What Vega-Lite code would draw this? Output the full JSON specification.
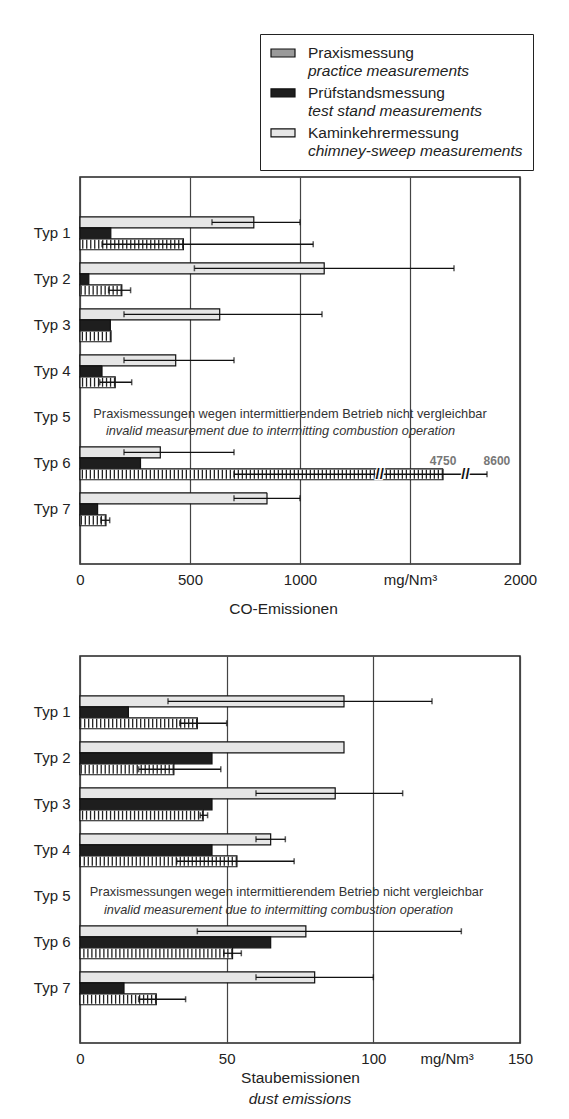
{
  "$schema": "https://vega.github.io/schema/vega-lite/v6.json",
  "padding": {"left": 32, "top": 33, "right": 5, "bottom": 5},
  "background": "white",
  "spacing": 37,
  "config": {
    "font": "Liberation Sans",
    "view": {"stroke": "#222", "strokeWidth": 1.5},
    "axis": {"labelColor": "#222", "titleColor": "#222", "labelFontSize": 15, "titleFontSize": 15.5, "titleFontWeight": "normal"},
    "title": {"color": "#222"}
  },
  "datasets": {
    "co": [
      {"typ": "Typ 1", "series": "Kaminkehrermessung", "en": "chimney-sweep measurements", "mean": 790, "min": 600, "max": 1000},
      {"typ": "Typ 1", "series": "Prüfstandsmessung", "en": "test stand measurements", "mean": 140},
      {"typ": "Typ 1", "series": "Praxismessung", "en": "practice measurements", "mean": 470, "min": 100, "max": 1060},
      {"typ": "Typ 2", "series": "Kaminkehrermessung", "en": "chimney-sweep measurements", "mean": 1110, "min": 520, "max": 1700},
      {"typ": "Typ 2", "series": "Prüfstandsmessung", "en": "test stand measurements", "mean": 40},
      {"typ": "Typ 2", "series": "Praxismessung", "en": "practice measurements", "mean": 190, "min": 130, "max": 230},
      {"typ": "Typ 3", "series": "Kaminkehrermessung", "en": "chimney-sweep measurements", "mean": 635, "min": 200, "max": 1100},
      {"typ": "Typ 3", "series": "Prüfstandsmessung", "en": "test stand measurements", "mean": 138},
      {"typ": "Typ 3", "series": "Praxismessung", "en": "practice measurements", "mean": 141},
      {"typ": "Typ 4", "series": "Kaminkehrermessung", "en": "chimney-sweep measurements", "mean": 435, "min": 200, "max": 700},
      {"typ": "Typ 4", "series": "Prüfstandsmessung", "en": "test stand measurements", "mean": 100},
      {"typ": "Typ 4", "series": "Praxismessung", "en": "practice measurements", "mean": 160, "min": 90, "max": 235},
      {"typ": "Typ 6", "series": "Kaminkehrermessung", "en": "chimney-sweep measurements", "mean": 365, "min": 200, "max": 700},
      {"typ": "Typ 6", "series": "Prüfstandsmessung", "en": "test stand measurements", "mean": 275},
      {"typ": "Typ 6", "series": "Praxismessung", "en": "practice measurements", "mean": 1650, "min": 700, "max": 1850},
      {"typ": "Typ 7", "series": "Kaminkehrermessung", "en": "chimney-sweep measurements", "mean": 850, "min": 700, "max": 1000},
      {"typ": "Typ 7", "series": "Prüfstandsmessung", "en": "test stand measurements", "mean": 80},
      {"typ": "Typ 7", "series": "Praxismessung", "en": "practice measurements", "mean": 118, "min": 95, "max": 135}
    ],
    "dust": [
      {"typ": "Typ 1", "series": "Kaminkehrermessung", "en": "chimney-sweep measurements", "mean": 90, "min": 30, "max": 120},
      {"typ": "Typ 1", "series": "Prüfstandsmessung", "en": "test stand measurements", "mean": 16.5},
      {"typ": "Typ 1", "series": "Praxismessung", "en": "practice measurements", "mean": 40, "min": 34, "max": 50},
      {"typ": "Typ 2", "series": "Kaminkehrermessung", "en": "chimney-sweep measurements", "mean": 90},
      {"typ": "Typ 2", "series": "Prüfstandsmessung", "en": "test stand measurements", "mean": 45},
      {"typ": "Typ 2", "series": "Praxismessung", "en": "practice measurements", "mean": 32, "min": 20, "max": 48},
      {"typ": "Typ 3", "series": "Kaminkehrermessung", "en": "chimney-sweep measurements", "mean": 87, "min": 60, "max": 110},
      {"typ": "Typ 3", "series": "Prüfstandsmessung", "en": "test stand measurements", "mean": 45},
      {"typ": "Typ 3", "series": "Praxismessung", "en": "practice measurements", "mean": 42, "min": 41, "max": 43.5},
      {"typ": "Typ 4", "series": "Kaminkehrermessung", "en": "chimney-sweep measurements", "mean": 65, "min": 60, "max": 70},
      {"typ": "Typ 4", "series": "Prüfstandsmessung", "en": "test stand measurements", "mean": 45},
      {"typ": "Typ 4", "series": "Praxismessung", "en": "practice measurements", "mean": 53.5, "min": 33, "max": 73},
      {"typ": "Typ 6", "series": "Kaminkehrermessung", "en": "chimney-sweep measurements", "mean": 77, "min": 40, "max": 130},
      {"typ": "Typ 6", "series": "Prüfstandsmessung", "en": "test stand measurements", "mean": 65},
      {"typ": "Typ 6", "series": "Praxismessung", "en": "practice measurements", "mean": 52, "min": 49, "max": 55},
      {"typ": "Typ 7", "series": "Kaminkehrermessung", "en": "chimney-sweep measurements", "mean": 80, "min": 60, "max": 100},
      {"typ": "Typ 7", "series": "Prüfstandsmessung", "en": "test stand measurements", "mean": 15},
      {"typ": "Typ 7", "series": "Praxismessung", "en": "practice measurements", "mean": 26, "min": 20, "max": 36}
    ],
    "note": [
      {"typ": "Typ 5", "de": "Praxismessungen wegen intermittierendem Betrieb nicht vergleichbar", "eng": "invalid measurement due to intermitting combustion operation"}
    ],
    "co_values": [
      {"typ": "Typ 6", "series": "Prüfstandsmessung", "at": 1650, "label": "4750"},
      {"typ": "Typ 6", "series": "Prüfstandsmessung", "at": 1895, "label": "8600"}
    ],
    "co_breaks": [
      {"typ": "Typ 6", "series": "Praxismessung", "at": 1362},
      {"typ": "Typ 6", "series": "Praxismessung", "at": 1752}
    ]
  },
  "vconcat": [
    {
      "width": 440,
      "height": 387,
      "layer": [
        {
          "data": {"name": "co"},
          "mark": {"type": "bar", "stroke": "#111", "strokeWidth": 1.2},
          "encoding": {
            "y": {"field": "typ", "type": "nominal", "scale": {"domain": ["Typ 1", "Typ 2", "Typ 3", "Typ 4", "Typ 5", "Typ 6", "Typ 7"], "paddingInner": 0.283, "paddingOuter": 0.848, "align": 0.51},
                  "axis": {"title": null, "ticks": false, "domain": false, "labelPadding": 10, "grid": false}},
            "yOffset": {"field": "series", "type": "nominal", "scale": {"domain": ["Kaminkehrermessung", "Prüfstandsmessung", "Praxismessung"], "paddingInner": 0, "paddingOuter": 0}},
            "x": {"field": "mean", "type": "quantitative", "scale": {"domain": [0, 2000], "nice": false},
                  "axis": {"values": [0, 500, 1000, 1500, 2000], "format": "d", "labelExpr": "datum.value === 1500 ? 'mg/Nm³' : datum.label", "grid": true, "gridColor": "#444", "gridWidth": 1.2, "ticks": false, "domain": false, "labelFlush": false, "labelPadding": 8, "title": "CO-Emissionen", "titleX": 203, "titlePadding": 14}},
            "fill": {"condition": {"test": "datum.series === 'Praxismessung'", "value": "white"}, "field": "series", "type": "nominal",
                     "scale": {"domain": ["Praxismessung", "Prüfstandsmessung", "Kaminkehrermessung"], "range": ["#9a9a9a", "#1e1e1e", "#e6e6e6"]},
                     "legend": {"orient": "none", "legendX": 190, "legendY": -133, "title": null, "padding": 0, "symbolType": "M-1,-0.5H2V0.5H-1Z", "symbolSize": 256, "symbolStrokeColor": "#111", "symbolStrokeWidth": 1.2, "labelFontSize": 15.5, "labelColor": "#222", "labelOffset": 20, "labelLimit": 0, "rowPadding": 21.9}},
            "strokeDash": {"field": "en", "type": "nominal",
                     "scale": {"domain": ["practice measurements", "test stand measurements", "chimney-sweep measurements"], "range": [[1, 0], [1, 0], [1, 0]]},
                     "legend": {"orient": "none", "legendX": 180, "legendY": -143, "title": " ", "titleFontSize": 8, "titlePadding": 10, "padding": 10, "strokeColor": "#222", "symbolType": "M-1,-0.5H2V0.5H-1Z", "symbolSize": 256, "symbolOpacity": 0, "labelFontSize": 15.5, "labelFontStyle": "italic", "labelColor": "#222", "labelOffset": 20, "labelLimit": 0, "rowPadding": 21.9}}
          }
        },
        {
          "data": {"name": "co"},
          "transform": [{"filter": "datum.series === 'Praxismessung'"}],
          "mark": {"type": "rule", "strokeWidth": 9, "strokeDash": [1.3, 2.7], "color": "#222", "strokeCap": "butt"},
          "encoding": {
            "y": {"field": "typ", "type": "nominal"},
            "yOffset": {"field": "series", "type": "nominal"},
            "x": {"field": "mean", "type": "quantitative"},
            "x2": {"value": 0}
          }
        },
        {
          "data": {"name": "co"},
          "transform": [{"filter": "isValid(datum.max)"}],
          "mark": {"type": "rule", "strokeWidth": 1.3, "color": "#111"},
          "encoding": {
            "y": {"field": "typ", "type": "nominal"},
            "yOffset": {"field": "series", "type": "nominal"},
            "x": {"field": "min", "type": "quantitative"},
            "x2": {"field": "max"}
          }
        },
        {
          "data": {"name": "co"},
          "transform": [{"filter": "isValid(datum.max)"}],
          "mark": {"type": "tick", "size": 6, "thickness": 1.5, "color": "#111"},
          "encoding": {
            "y": {"field": "typ", "type": "nominal"},
            "yOffset": {"field": "series", "type": "nominal"},
            "x": {"field": "min", "type": "quantitative"}
          }
        },
        {
          "data": {"name": "co"},
          "transform": [{"filter": "isValid(datum.max)"}],
          "mark": {"type": "tick", "size": 6, "thickness": 1.5, "color": "#111"},
          "encoding": {
            "y": {"field": "typ", "type": "nominal"},
            "yOffset": {"field": "series", "type": "nominal"},
            "x": {"field": "max", "type": "quantitative"}
          }
        },
        {
          "data": {"name": "co_breaks"},
          "mark": {"type": "text", "text": "//", "fontSize": 15, "fontWeight": "bold", "color": "#111", "stroke": "white", "strokeWidth": 2.5, "align": "center", "baseline": "middle"},
          "encoding": {
            "y": {"field": "typ", "type": "nominal"},
            "yOffset": {"field": "series", "type": "nominal"},
            "x": {"field": "at", "type": "quantitative"}
          }
        },
        {
          "data": {"name": "co_breaks"},
          "mark": {"type": "text", "text": "//", "fontSize": 15, "fontWeight": "bold", "color": "#111", "align": "center", "baseline": "middle"},
          "encoding": {
            "y": {"field": "typ", "type": "nominal"},
            "yOffset": {"field": "series", "type": "nominal"},
            "x": {"field": "at", "type": "quantitative"}
          }
        },
        {
          "data": {"name": "co_values"},
          "mark": {"type": "text", "fontSize": 12, "fontWeight": "bold", "color": "#777", "align": "center", "baseline": "middle", "dy": -2},
          "encoding": {
            "y": {"field": "typ", "type": "nominal"},
            "yOffset": {"field": "series", "type": "nominal"},
            "x": {"field": "at", "type": "quantitative"},
            "text": {"field": "label"}
          }
        },
        {
          "data": {"name": "note"},
          "mark": {"type": "text", "fontSize": 12.8, "color": "#333", "align": "center", "baseline": "middle", "dy": -3.5, "dx": -10},
          "encoding": {
            "y": {"field": "typ", "type": "nominal"},
            "text": {"field": "de"}
          }
        },
        {
          "data": {"name": "note"},
          "mark": {"type": "text", "fontSize": 12.8, "fontStyle": "italic", "color": "#333", "align": "center", "baseline": "middle", "dy": 13.5, "dx": -19.5},
          "encoding": {
            "y": {"field": "typ", "type": "nominal"},
            "text": {"field": "eng"}
          }
        }
      ]
    },
    {
      "width": 440,
      "height": 387,
      "title": {"text": "dust emissions", "orient": "bottom", "anchor": "middle", "fontSize": 15.5, "fontWeight": "normal", "fontStyle": "italic", "offset": 6},
      "layer": [
        {
          "data": {"name": "dust"},
          "mark": {"type": "bar", "stroke": "#111", "strokeWidth": 1.2},
          "encoding": {
            "y": {"field": "typ", "type": "nominal", "scale": {"domain": ["Typ 1", "Typ 2", "Typ 3", "Typ 4", "Typ 5", "Typ 6", "Typ 7"], "paddingInner": 0.283, "paddingOuter": 0.848, "align": 0.51},
                  "axis": {"title": null, "ticks": false, "domain": false, "labelPadding": 10, "grid": false}},
            "yOffset": {"field": "series", "type": "nominal", "scale": {"domain": ["Kaminkehrermessung", "Prüfstandsmessung", "Praxismessung"], "paddingInner": 0, "paddingOuter": 0}},
            "x": {"field": "mean", "type": "quantitative", "scale": {"domain": [0, 150], "nice": false},
                  "axis": {"values": [0, 50, 100, 125, 150], "format": "d", "labelExpr": "datum.value === 125 ? 'mg/Nm³' : datum.label", "grid": true, "gridColor": "#444", "gridWidth": 1.2, "gridOpacity": {"condition": {"test": "datum.value === 125", "value": 0}, "value": 1}, "ticks": false, "domain": false, "labelFlush": false, "labelPadding": 8, "title": "Staubemissionen", "titlePadding": 4}},
            "fill": {"condition": {"test": "datum.series === 'Praxismessung'", "value": "white"}, "field": "series", "type": "nominal",
                     "scale": {"domain": ["Praxismessung", "Prüfstandsmessung", "Kaminkehrermessung"], "range": ["#9a9a9a", "#1e1e1e", "#e6e6e6"]},
                     "legend": {"orient": "none", "legendX": 190, "legendY": -133, "title": null, "padding": 0, "symbolType": "M-1,-0.5H2V0.5H-1Z", "symbolSize": 256, "symbolStrokeColor": "#111", "symbolStrokeWidth": 1.2, "labelFontSize": 15.5, "labelColor": "#222", "labelOffset": 20, "labelLimit": 0, "rowPadding": 21.9}}
          }
        },
        {
          "data": {"name": "dust"},
          "transform": [{"filter": "datum.series === 'Praxismessung'"}],
          "mark": {"type": "rule", "strokeWidth": 9, "strokeDash": [1.3, 2.7], "color": "#222", "strokeCap": "butt"},
          "encoding": {
            "y": {"field": "typ", "type": "nominal"},
            "yOffset": {"field": "series", "type": "nominal"},
            "x": {"field": "mean", "type": "quantitative"},
            "x2": {"value": 0}
          }
        },
        {
          "data": {"name": "dust"},
          "transform": [{"filter": "isValid(datum.max)"}],
          "mark": {"type": "rule", "strokeWidth": 1.3, "color": "#111"},
          "encoding": {
            "y": {"field": "typ", "type": "nominal"},
            "yOffset": {"field": "series", "type": "nominal"},
            "x": {"field": "min", "type": "quantitative"},
            "x2": {"field": "max"}
          }
        },
        {
          "data": {"name": "dust"},
          "transform": [{"filter": "isValid(datum.max)"}],
          "mark": {"type": "tick", "size": 6, "thickness": 1.5, "color": "#111"},
          "encoding": {
            "y": {"field": "typ", "type": "nominal"},
            "yOffset": {"field": "series", "type": "nominal"},
            "x": {"field": "min", "type": "quantitative"}
          }
        },
        {
          "data": {"name": "dust"},
          "transform": [{"filter": "isValid(datum.max)"}],
          "mark": {"type": "tick", "size": 6, "thickness": 1.5, "color": "#111"},
          "encoding": {
            "y": {"field": "typ", "type": "nominal"},
            "yOffset": {"field": "series", "type": "nominal"},
            "x": {"field": "max", "type": "quantitative"}
          }
        },
        {
          "data": {"name": "note"},
          "mark": {"type": "text", "fontSize": 12.8, "color": "#333", "align": "center", "baseline": "middle", "dy": -4.5, "dx": -13.5},
          "encoding": {
            "y": {"field": "typ", "type": "nominal"},
            "text": {"field": "de"}
          }
        },
        {
          "data": {"name": "note"},
          "mark": {"type": "text", "fontSize": 12.8, "fontStyle": "italic", "color": "#333", "align": "center", "baseline": "middle", "dy": 13.5, "dx": -21.5},
          "encoding": {
            "y": {"field": "typ", "type": "nominal"},
            "text": {"field": "eng"}
          }
        }
      ]
    }
  ]
}
